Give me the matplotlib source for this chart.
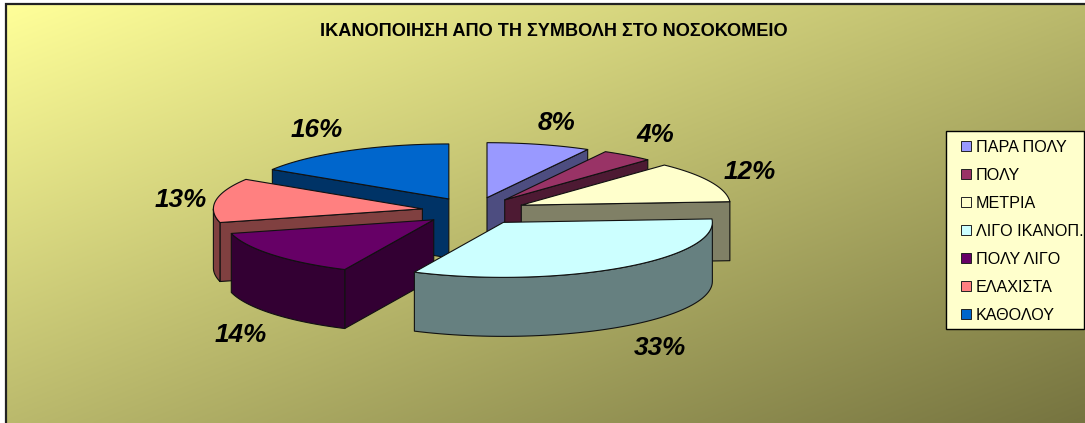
import numpy as np
import matplotlib

matplotlib.use("Agg")
import matplotlib.pyplot as plt
from matplotlib.patches import Polygon, Rectangle

TITLE = "ΙΚΑΝΟΠΟΙΗΣΗ ΑΠΟ ΤΗ ΣΥΜΒΟΛΗ ΣΤΟ ΝΟΣΟΚΟΜΕΙΟ"
labels = ["ΠΑΡΑ ΠΟΛΥ", "ΠΟΛΥ", "ΜΕΤΡΙΑ", "ΛΙΓΟ ΙΚΑΝΟΠ.", "ΠΟΛΥ ΛΙΓΟ", "ΕΛΑΧΙΣΤΑ", "ΚΑΘΟΛΟΥ"]
values = [8, 4, 12, 33, 14, 13, 16]

top_colors = ["#9999FF", "#993366", "#FFFFCC", "#CCFFFF", "#660066", "#FF8080", "#0066CC"]
side_colors = ["#4D4D80", "#4D1A33", "#808066", "#668080", "#330033", "#804040", "#003366"]

# pie geometry, in pixels
CX, CY = 474, 211
RX, RY = 209, 55
EXPLODE = 0.25
DEPTH = 59

# back slices first so the front ones paint over them
draw_order = [6, 5, 4, 0, 1, 2, 3]

# left edge and baseline of each percentage label
pct_x = [538, 636, 724, 634, 215, 155, 291]
pct_y = [130, 142, 179, 355, 342, 207, 137]


def rim(apex, start, end, n=60):
    theta = np.radians(np.linspace(start, end, n))
    return np.column_stack((apex[0] + RX * np.sin(theta), apex[1] - RY * np.cos(theta)))


def radial_face(apex, angle):
    tip = rim(apex, angle, angle, 1)[0]
    return [apex, tip, (tip[0], tip[1] + DEPTH), (apex[0], apex[1] + DEPTH)]


def draw_slice(ax, start, end, top, side):
    mid = np.radians((start + end) / 2)
    apex = (CX + EXPLODE * RX * np.sin(mid), CY - EXPLODE * RY * np.cos(mid))
    style = {"edgecolor": "#111111", "linewidth": 0.8, "joinstyle": "round"}

    if np.sin(np.radians(start)) < 0:
        ax.add_patch(Polygon(radial_face(apex, start), facecolor=side, **style))
    if np.sin(np.radians(end)) > 0:
        ax.add_patch(Polygon(radial_face(apex, end), facecolor=side, **style))

    a, b = max(start, 90), min(end, 270)
    if a < b:
        arc = rim(apex, a, b)
        wall = np.vstack((arc, arc[::-1] + [0, DEPTH]))
        ax.add_patch(Polygon(wall, facecolor=side, **style))

    ax.add_patch(Polygon(np.vstack(([apex], rim(apex, start, end))), facecolor=top, **style))


plt.rcParams["font.family"] = ["Liberation Sans", "DejaVu Sans"]

fig = plt.figure(figsize=(10.85, 4.23), dpi=100, facecolor="white")
ax = fig.add_axes([0, 0, 1, 1])
ax.axis("off")

# diagonal background fade
xx, yy = np.meshgrid(np.linspace(0, 1, 400), np.linspace(0, 1, 200))
t = ((xx + yy) / 2)[..., None]
fade = (1 - t) * np.array([255, 255, 153]) / 255 + t * np.array([118, 116, 64]) / 255
ax.imshow(fade, extent=(6, 1085, 423, 5), aspect="auto", interpolation="bilinear", zorder=0)
ax.set_xlim(0, 1085)
ax.set_ylim(423, 0)
ax.plot([5.5, 5.5, 1085], [423, 4.5, 4.5], color="#222222", lw=1.6, solid_joinstyle="miter")

ax.text(320, 36.5, TITLE, fontsize=13.1, fontweight="bold", color="black")

edges = np.cumsum([0] + values) / sum(values) * 360
for i in draw_order:
    draw_slice(ax, edges[i], edges[i + 1], top_colors[i], side_colors[i])

for value, x, y in zip(values, pct_x, pct_y):
    ax.text(x, y, f"{value}%", fontsize=18.8, fontweight="bold", fontstyle="italic", color="black")

# legend box
ax.add_patch(Rectangle((946, 131), 137.5, 198, facecolor="#FFFFCC", edgecolor="black", lw=1))
for i, label in enumerate(labels):
    yc = 146 + 28 * i
    ax.add_patch(Rectangle((961, yc - 5), 10, 10, facecolor=top_colors[i], edgecolor="#222222", lw=0.7))
    ax.text(976, yc + 6, label, fontsize=11.6, color="black")

fig.savefig("out.png", dpi=100)
